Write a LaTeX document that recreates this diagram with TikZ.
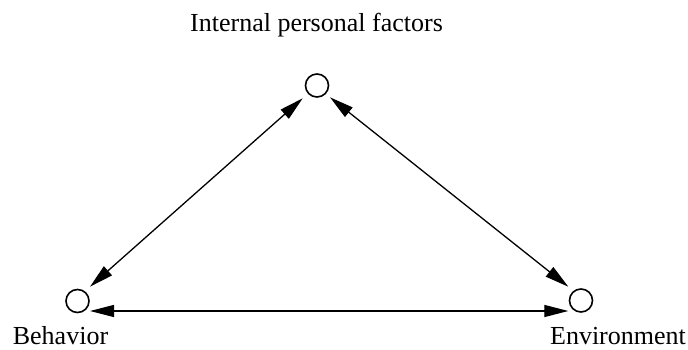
\documentclass[tikz,border=0pt]{standalone}
\usepackage{fontspec}
\setmainfont{Liberation Serif}
\usetikzlibrary{arrows.meta}
\tikzset{
  circ/.style={circle, draw, line width=1.6pt, minimum size=23pt, inner sep=0pt},
  lbl/.style={anchor=base, inner sep=0pt, font=\fontsize{26}{30}\selectfont},
  conn/.style={line width=1.3pt, {Triangle[length=24pt,width=12pt]}-{Triangle[length=24pt,width=12pt]}}
}
\begin{document}
\begin{tikzpicture}[x=1pt,y=-1pt]
\useasboundingbox (0,0) rectangle (688,350);
\node[circ] (ipf) at (317,85.5) {};
\node[circ] (beh) at (77.5,301) {};
\node[circ] (env) at (581,300.5) {};
\node[lbl] (tipf) at (316.5,32) {Internal personal factors};
\node[lbl] (tbeh) at (60.5,344.5) {Behavior};
\node[lbl] (tenv) at (618,344.5) {Environment};
\coordinate (ipfL) at (302.7,98.3);
\coordinate (ipfR) at (330,97.3);
\coordinate (behT) at (90,286.7);
\coordinate (behR) at (90,311);
\coordinate (envT) at (568.3,286.7);
\coordinate (envL) at (568.3,311);
\draw[conn] (ipfL) -- (behT);
\draw[conn] (ipfR) -- (envT);
\draw[conn] (behR) -- (envL);
\end{tikzpicture}
\end{document}
